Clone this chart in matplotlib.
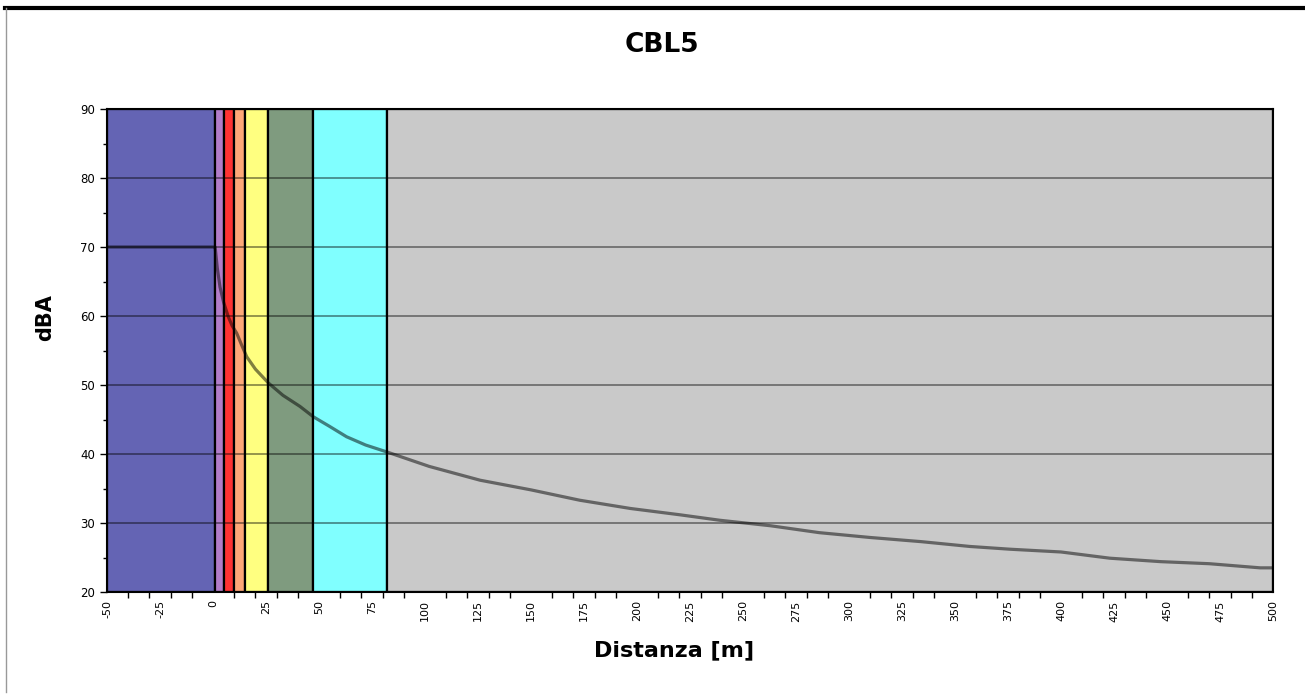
import numpy as np
import matplotlib
matplotlib.use('Agg')
import matplotlib.pyplot as plt
from matplotlib.lines import Line2D

plt.rcParams['axes.unicode_minus'] = False

# noise level vs distance
distanza = [-50, 0, 1, 2, 3.3, 5, 7.2, 9, 11.2, 13.5, 15.9, 20, 26.1, 33, 41, 47.3, 55, 63, 72, 82,
            102, 126, 150, 173, 197, 220, 239, 263, 286, 310, 334, 357, 376, 400,
            423, 447, 470, 494, 500]
livello = [70, 70, 70, 67, 64.2, 62, 59.9, 58.6, 57.5, 55.8, 54.1, 52.3, 50.3, 48.5, 46.9, 45.4, 44, 42.5, 41.3, 40.3,
           38.2, 36.2, 34.8, 33.3, 32.1, 31.2, 30.4, 29.6, 28.6, 27.9, 27.3, 26.6, 26.2, 25.8,
           24.9, 24.4, 24.1, 23.5, 23.5]

# coloured distance bands
band_edges = [-50, 1, 5, 10, 15, 26, 47, 82, 500]
band_colors = ['#6464B4', '#B27DC9', '#FF3333', '#FFA878', '#FFFF80',
               '#7F9B7F', '#80FFFF', '#C9C9C9']

W, H = 1305, 695
fig = plt.figure(figsize=(W / 100, H / 100), dpi=100)
ax = fig.add_axes([107 / W, 1 - 592 / H, (1273 - 107) / W, (592 - 109) / H])

for i, c in enumerate(band_colors):
    ax.axvspan(band_edges[i], band_edges[i + 1], ymin=0, ymax=1, facecolor=c,
               edgecolor='black', linewidth=1.6, zorder=1)

for y in range(30, 90, 10):
    ax.axhline(y, color='black', alpha=0.45, linewidth=1.3, zorder=2)

ax.plot(distanza, livello, color='black', alpha=0.5, linewidth=2.3, zorder=3)

ax.set_xlim(-50, 500)
ax.set_ylim(20, 90)
ax.set_xticks(np.arange(-50, 501, 25))
ax.set_xticks(np.arange(-50, 501, 10), minor=True)
ax.set_yticks(np.arange(20, 91, 10))
ax.set_yticks(np.arange(20, 91, 5), minor=True)
ax.tick_params(axis='x', which='major', length=0, labelsize=8, labelrotation=90, pad=6)
ax.tick_params(axis='x', which='minor', length=4, width=1, direction='out')
ax.tick_params(axis='y', which='major', length=5, width=1, labelsize=8.5)
ax.tick_params(axis='y', which='minor', length=3, width=1)
for s in ax.spines.values():
    s.set_linewidth(1.5)
    s.set_zorder(5)

fig.text(662 / W, 1 - 45 / H, 'CBL5', fontsize=19, fontweight='bold', ha='center', va='center')
fig.text(674 / W, 1 - 650 / H, 'Distanza [m]', fontsize=16, fontweight='bold', ha='center', va='center')
fig.text(45 / W, 1 - 318 / H, 'dBA', fontsize=15, fontweight='bold', ha='center', va='center', rotation=90)

# frame around the figure
fig.add_artist(Line2D([0.004, 1], [1 - 8 / H, 1 - 8 / H], color='black', linewidth=3))
fig.add_artist(Line2D([6 / W, 6 / W], [0.005, 1 - 8 / H], color='#999999', linewidth=1))

fig.savefig('out.png', dpi=100)
